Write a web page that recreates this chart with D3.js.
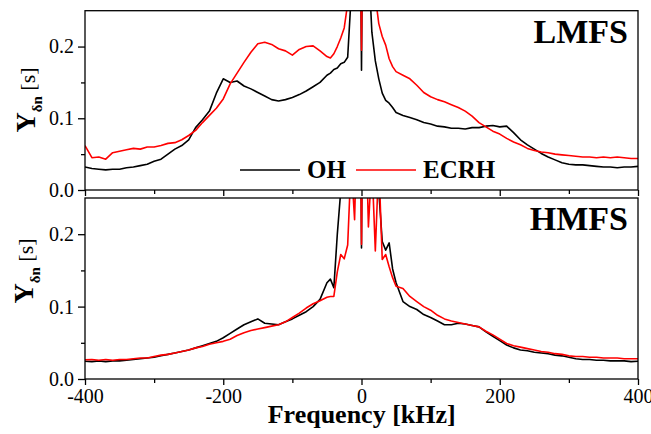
<!DOCTYPE html>
<html><head><meta charset="utf-8">
<script src="https://cdn.jsdelivr.net/npm/d3@7"></script>
<style>
body{margin:0;background:#fff;}
svg{display:block;}
svg text{font-family:"Liberation Serif","Times New Roman",Times,"DejaVu Serif",serif;}
</style></head>
<body><svg id="c" width="651" height="434"></svg>
<script>
const freq = [-400,-390,-380,-370,-360,-350,-340,-330,-320,-310,-300,-290,-280,-270,-260,-250,-240,-230,-220,-210,-200,-190,-180,-170,-160,-150,-140,-130,-120,-110,-100,-90,-80,-70,-60,-50,
 -45,-40,-35,-30,-25,-20,-15,-10,-5,-1,0,1,5,10,15,20,25,30,35,40,45,
 50,60,70,80,90,100,110,120,130,140,150,160,170,180,190,200,210,220,230,240,250,260,270,280,290,300,310,320,330,340,350,360,370,380,390,400];

const lmfsOH = [0.032,0.030,0.029,0.028,0.029,0.029,0.031,0.032,0.034,0.036,0.040,0.043,0.050,0.057,0.062,0.070,0.087,0.098,0.110,0.135,0.155,0.150,0.152,0.145,0.141,0.136,0.131,0.126,0.124,0.126,0.129,0.133,0.138,0.144,0.150,0.160,
 0.163,0.168,0.170,0.176,0.178,0.185,0.27,0.35,0.4,0.3,0.167,0.3,0.4,0.32,0.22,0.18,0.155,0.135,0.125,0.121,0.115,
 0.108,0.104,0.101,0.098,0.094,0.092,0.089,0.088,0.086,0.086,0.085,0.087,0.087,0.089,0.090,0.088,0.089,0.080,0.070,0.063,0.057,0.051,0.046,0.042,0.038,0.036,0.035,0.035,0.034,0.033,0.032,0.032,0.031,0.032,0.032,0.033];

const lmfsECRH = [0.062,0.045,0.046,0.043,0.052,0.054,0.056,0.058,0.057,0.060,0.060,0.062,0.065,0.066,0.070,0.076,0.083,0.094,0.104,0.114,0.127,0.148,0.163,0.178,0.192,0.204,0.206,0.203,0.197,0.194,0.188,0.196,0.200,0.201,0.194,0.186,
 0.184,0.190,0.200,0.212,0.226,0.26,0.32,0.4,0.4,0.3,0.195,0.3,0.4,0.4,0.35,0.27,0.232,0.214,0.202,0.183,0.172,
 0.165,0.160,0.155,0.146,0.136,0.130,0.126,0.123,0.119,0.115,0.110,0.103,0.094,0.088,0.082,0.078,0.072,0.067,0.063,0.058,0.055,0.053,0.052,0.050,0.049,0.048,0.047,0.046,0.046,0.045,0.046,0.045,0.046,0.045,0.044,0.044];

const hmfsOH = [0.0245,0.024,0.025,0.024,0.025,0.025,0.026,0.027,0.028,0.029,0.030,0.032,0.034,0.036,0.038,0.040,0.043,0.046,0.049,0.052,0.057,0.063,0.069,0.075,0.079,0.083,0.077,0.076,0.075,0.079,0.083,0.088,0.093,0.100,0.110,0.133,
 0.138,0.126,0.200,0.26,0.35,0.4,0.4,0.4,0.4,0.35,0.181,0.35,0.4,0.4,0.4,0.4,0.26,0.19,0.178,0.188,0.152,
 0.133,0.107,0.100,0.096,0.089,0.085,0.080,0.075,0.075,0.077,0.076,0.074,0.072,0.065,0.059,0.053,0.047,0.043,0.040,0.039,0.037,0.036,0.035,0.033,0.032,0.030,0.028,0.027,0.027,0.026,0.026,0.025,0.025,0.025,0.024,0.0245];

const hmfsECRH = [0.0265,0.027,0.026,0.027,0.026,0.027,0.027,0.028,0.029,0.029,0.031,0.033,0.034,0.036,0.038,0.040,0.043,0.045,0.048,0.050,0.052,0.055,0.060,0.064,0.067,0.069,0.071,0.073,0.075,0.079,0.085,0.091,0.098,0.104,0.108,0.113,
 0.114,0.114,0.148,0.172,0.166,0.185,0.30,0.22,0.4,0.3,0.186,0.3,0.4,0.21,0.30,0.177,0.30,0.165,0.172,0.155,0.140,
 0.128,0.125,0.114,0.107,0.100,0.095,0.088,0.083,0.080,0.078,0.076,0.074,0.072,0.066,0.061,0.055,0.049,0.046,0.044,0.042,0.040,0.038,0.037,0.035,0.034,0.032,0.031,0.031,0.030,0.030,0.029,0.029,0.029,0.028,0.028,0.028];

const xMajor = [-400,-200,0,200,400];
const xMinor = [-300,-100,100,300];
const yMajor = [0.0,0.1,0.2];
const yMinor = [0.05,0.15];
const panels = [
  {name:"LMFS", oh:lmfsOH, ecrh:lmfsECRH, top:10.7, bottom:190, labels:false, labX:35, labY:100},
  {name:"HMFS", oh:hmfsOH, ecrh:hmfsECRH, top:198, bottom:379, labels:true, labX:33, labY:271}
];

const FONT = '"Liberation Serif","Times New Roman",Times,"DejaVu Serif",serif';
const svg = d3.select("#c");
const L = 85, R = 638;
const x = d3.scaleLinear().domain([-400,400]).range([L,R]);

panels.forEach((p,i)=>{
  const y = d3.scaleLinear().domain([0,0.25]).range([p.bottom,p.top]);
  const g = svg.append("g");
  const cid = "clip"+i;
  svg.append("clipPath").attr("id",cid).append("rect")
    .attr("x",L).attr("y",p.top).attr("width",R-L).attr("height",p.bottom-p.top);
  const line = d3.line().x((d,j)=>x(freq[j])).y(d=>y(d));
  const dg = g.append("g").attr("clip-path","url(#"+cid+")");
  dg.append("path").datum(p.oh).attr("d",line).attr("fill","none").attr("stroke","#000").attr("stroke-width",1.6).attr("stroke-linejoin","round");
  dg.append("path").datum(p.ecrh).attr("d",line).attr("fill","none").attr("stroke","#ff0000").attr("stroke-width",1.6).attr("stroke-linejoin","round");
  g.append("rect").attr("x",L).attr("y",p.top).attr("width",R-L).attr("height",p.bottom-p.top)
    .attr("fill","none").attr("stroke","#000").attr("stroke-width",1.3);
  const ya = g.append("g").attr("transform",`translate(${L},0)`)
    .call(d3.axisLeft(y).tickValues(yMajor).tickSize(7).tickPadding(4).tickFormat(d3.format(".1f")));
  ya.attr("font-family",FONT);
  ya.select(".domain").remove();
  ya.selectAll("text").attr("font-size",20).style("font-family",FONT).attr("fill","#000");
  ya.selectAll("line").attr("stroke-width",1.3);
  const ym = g.append("g").attr("transform",`translate(${L},0)`)
    .call(d3.axisLeft(y).tickValues(yMinor).tickSize(4).tickFormat(""));
  ym.select(".domain").remove();
  ym.selectAll("line").attr("stroke-width",1.3);
  const xa = g.append("g").attr("transform",`translate(0,${p.bottom})`)
    .call(d3.axisBottom(x).tickValues(xMajor).tickSize(6).tickPadding(4).tickFormat(p.labels? (d=>String(d)) : ""));
  xa.attr("font-family",FONT);
  xa.select(".domain").remove();
  xa.selectAll("text").attr("font-size",20).style("font-family",FONT).attr("fill","#000");
  xa.selectAll("line").attr("stroke-width",1.3);
  const xm = g.append("g").attr("transform",`translate(0,${p.bottom})`)
    .call(d3.axisBottom(x).tickValues(xMinor).tickSize(4).tickFormat(""));
  xm.select(".domain").remove();
  xm.selectAll("line").attr("stroke-width",1.3);
  g.append("text").attr("x",628).attr("y",p.top+32).attr("text-anchor","end")
    .style("font-family",FONT).attr("font-size",34).attr("font-weight","bold").text(p.name);
  const yl = g.append("text").attr("transform",`translate(${p.labX},${p.labY}) rotate(-90)`)
    .attr("text-anchor","middle").style("font-family",FONT);
  yl.append("tspan").attr("font-weight","bold").attr("font-size",28).text("Y");
  yl.append("tspan").attr("font-weight","bold").attr("font-size",15).attr("dy",7).text("δn");
  yl.append("tspan").attr("font-size",22).attr("dy",-7).text(" [s]");
});

const lg = svg.append("g").style("font-family",FONT);
lg.append("line").attr("x1",240).attr("x2",300).attr("y1",170).attr("y2",170).attr("stroke","#000").attr("stroke-width",1.5);
lg.append("text").attr("x",307).attr("y",178).attr("font-size",25).attr("font-weight","bold").style("font-family",FONT).text("OH");
lg.append("line").attr("x1",356).attr("x2",416).attr("y1",170).attr("y2",170).attr("stroke","#ff0000").attr("stroke-width",1.5);
lg.append("text").attr("x",423).attr("y",178).attr("font-size",25).attr("font-weight","bold").style("font-family",FONT).text("ECRH");

svg.append("text").attr("x",361.7).attr("y",423).attr("text-anchor","middle").style("font-family",FONT)
  .attr("font-size",26).attr("font-weight","bold").text("Frequency [kHz]");
</script></body></html>
